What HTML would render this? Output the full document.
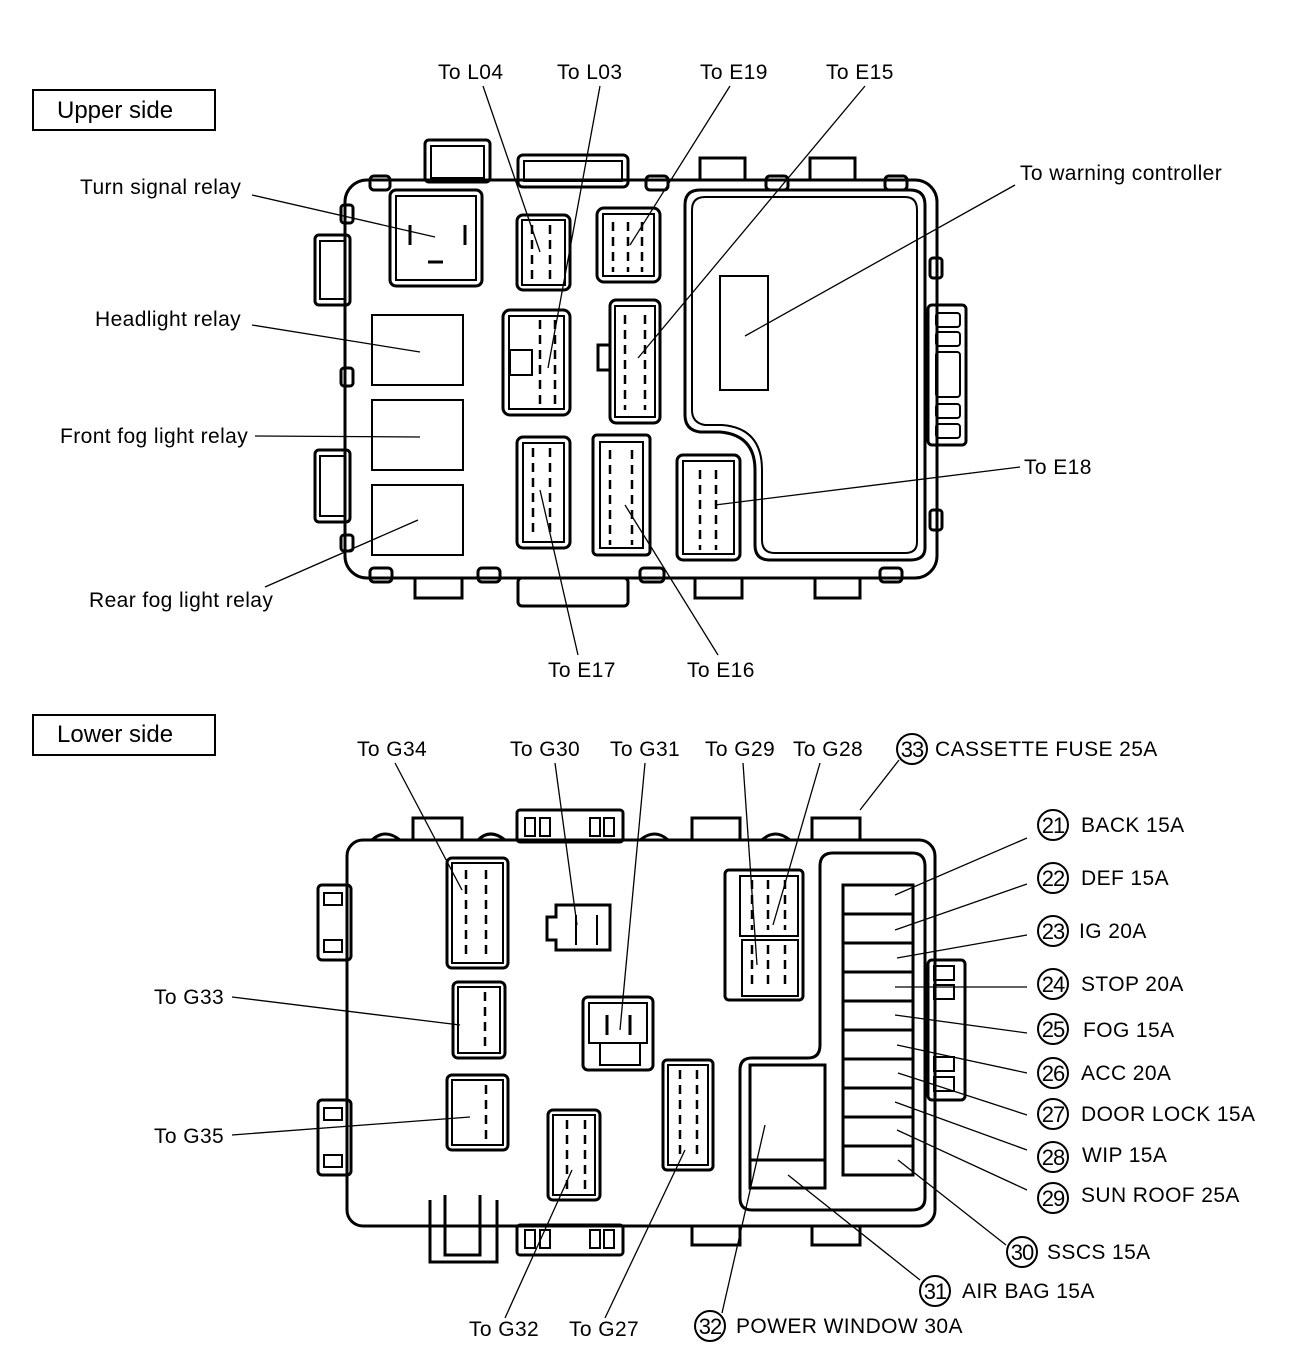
<!DOCTYPE html>
<html><head><meta charset="utf-8"><style>
html,body{margin:0;padding:0;background:#fff}
svg{display:block}
text{font-family:"Liberation Sans",Arial,sans-serif;font-size:21px;letter-spacing:0.4px;fill:#000}
.b{fill:none;stroke:#000;stroke-width:3}
.t{fill:none;stroke:#000;stroke-width:2}
.l{stroke:#000;stroke-width:1.3;fill:none}
.d{stroke:#000;stroke-width:2.5;stroke-dasharray:9 6;fill:none}
</style></head><body>
<svg width="1312" height="1358" viewBox="0 0 1312 1358" xmlns="http://www.w3.org/2000/svg">
<!-- UPPER -->
<rect x="33" y="90" width="182" height="40" class="t"/>
<text x="57" y="118" style="font-size:24px;letter-spacing:0">Upper side</text>

<rect x="345" y="180" width="592" height="398" rx="22" class="b"/>
<rect x="425" y="140" width="65" height="42" rx="4" class="b"/><rect x="431" y="146" width="53" height="32" class="t"/>
<rect x="518" y="155" width="110" height="32" rx="5" class="b"/><rect x="524" y="161" width="98" height="20" class="t"/>
<rect x="370" y="176" width="20" height="14" rx="4" class="b"/>
<rect x="646" y="176" width="22" height="14" rx="4" class="b"/>
<rect x="766" y="176" width="22" height="14" rx="4" class="b"/>
<rect x="885" y="176" width="22" height="14" rx="4" class="b"/>
<path d="M700 180 V158 H745 V180 M810 180 V158 H855 V180" class="b"/>
<rect x="315" y="235" width="35" height="70" rx="4" class="b"/><rect x="320" y="241" width="25" height="58" class="t"/>
<rect x="315" y="450" width="35" height="72" rx="4" class="b"/><rect x="320" y="456" width="25" height="60" class="t"/>
<rect x="341" y="205" width="12" height="18" rx="3" class="b"/>
<rect x="341" y="368" width="12" height="18" rx="3" class="b"/>
<rect x="341" y="535" width="12" height="16" rx="3" class="b"/>
<rect x="928" y="305" width="38" height="140" rx="4" class="b"/>
<rect x="936" y="313" width="24" height="14" rx="3" class="t"/><rect x="936" y="332" width="24" height="14" rx="3" class="t"/>
<rect x="936" y="352" width="24" height="45" rx="3" class="t"/><rect x="936" y="404" width="24" height="14" rx="3" class="t"/><rect x="936" y="424" width="24" height="14" rx="3" class="t"/>
<rect x="930" y="258" width="12" height="20" rx="3" class="b"/>
<rect x="930" y="510" width="12" height="20" rx="3" class="b"/>
<rect x="370" y="568" width="22" height="14" rx="4" class="b"/>
<rect x="478" y="568" width="22" height="14" rx="4" class="b"/>
<rect x="640" y="568" width="24" height="14" rx="4" class="b"/>
<rect x="880" y="568" width="22" height="14" rx="4" class="b"/>
<rect x="518" y="578" width="110" height="28" rx="4" class="b"/>
<path d="M415 578 V598 H462 V578 M695 578 V598 H742 V578 M815 578 V598 H860 V578" class="b"/>
<rect x="390" y="190" width="92" height="96" rx="6" class="b"/><rect x="396" y="196" width="80" height="84" class="t"/>
<path d="M410 225 V245 M465 225 V245 M428 262 H443" class="b"/>
<rect x="372" y="315" width="91" height="70" class="t"/>
<rect x="372" y="400" width="91" height="70" class="t"/>
<rect x="372" y="485" width="91" height="70" class="t"/>
<rect x="517" y="215" width="53" height="75" rx="6" class="b"/><rect x="522" y="220" width="43" height="65" class="t"/>
<path d="M532 225 V285 M550 225 V285" class="d"/>
<rect x="503" y="310" width="67" height="105" rx="7" class="b"/><rect x="509" y="316" width="55" height="93" class="t"/><rect x="510" y="350" width="22" height="25" class="t"/>
<path d="M540 320 V405 M555 320 V405" class="d"/>
<rect x="597" y="208" width="63" height="74" rx="7" class="b"/><rect x="603" y="214" width="51" height="62" class="t"/>
<path d="M613 222 V272 M628 222 V272 M642 222 V272" class="d"/>
<rect x="610" y="300" width="50" height="123" rx="6" class="b"/><rect x="615" y="306" width="40" height="111" class="t"/><path d="M610 345 H598 V370 H610" class="b"/>
<path d="M625 315 V410 M645 315 V410" class="d"/>
<rect x="517" y="437" width="53" height="111" rx="6" class="b"/><rect x="523" y="443" width="41" height="99" class="t"/>
<path d="M533 448 V538 M550 448 V538" class="d"/>
<rect x="593" y="435" width="57" height="120" rx="4" class="b"/><rect x="600" y="442" width="43" height="106" class="t"/>
<path d="M610 450 V545 M632 450 V545" class="d"/>
<rect x="677" y="455" width="63" height="105" rx="6" class="b"/><rect x="683" y="461" width="51" height="93" class="t"/>
<path d="M700 470 V550 M716 470 V550" class="d"/>
<path d="M700 190 H910 Q925 190 925 205 V548 Q925 560 910 560 H770 Q755 560 755 545 V470 Q755 435 720 432 H700 Q685 430 685 415 V205 Q685 190 700 190 Z" class="b"/>
<path d="M705 197 H905 Q917 197 917 210 V542 Q917 553 905 553 H775 Q762 553 762 540 V470 Q762 428 722 425 H705 Q692 423 692 410 V210 Q692 197 705 197 Z" class="t"/>
<rect x="720" y="276" width="48" height="114" class="t"/>
<text x="80" y="194">Turn signal relay</text><line x1="252" y1="195" x2="435" y2="237" class="l"/>
<text x="95" y="326">Headlight relay</text><line x1="252" y1="325" x2="420" y2="352" class="l"/>
<text x="60" y="443">Front fog light relay</text><line x1="255" y1="436" x2="420" y2="437" class="l"/>
<text x="89" y="607">Rear fog light relay</text><line x1="265" y1="587" x2="418" y2="520" class="l"/>
<text x="438" y="79">To L04</text><line x1="483" y1="86" x2="540" y2="252" class="l"/>
<text x="557" y="79">To L03</text><line x1="600" y1="86" x2="548" y2="368" class="l"/>
<text x="700" y="79">To E19</text><line x1="730" y1="86" x2="630" y2="245" class="l"/>
<text x="826" y="79">To E15</text><line x1="865" y1="86" x2="638" y2="358" class="l"/>
<text x="1020" y="180">To warning controller</text><line x1="1015" y1="185" x2="745" y2="336" class="l"/>
<text x="1024" y="474">To E18</text><line x1="1020" y1="467" x2="715" y2="505" class="l"/>
<text x="548" y="677">To E17</text><line x1="578" y1="655" x2="540" y2="490" class="l"/>
<text x="687" y="677">To E16</text><line x1="718" y1="655" x2="625" y2="505" class="l"/>

<!-- LOWER -->
<rect x="33" y="715" width="182" height="40" class="t"/>
<text x="57" y="742" style="font-size:24px;letter-spacing:0">Lower side</text>

<rect x="347" y="840" width="588" height="386" rx="16" class="b"/>
<path d="M413 840 V818 H462 V840 M692 840 V818 H740 V840 M812 840 V818 H860 V840" class="b"/>
<rect x="517" y="810" width="106" height="32" rx="3" class="b"/>
<rect x="525" y="818" width="10" height="18" class="t"/><rect x="540" y="818" width="10" height="18" class="t"/>
<rect x="590" y="818" width="10" height="18" class="t"/><rect x="604" y="818" width="10" height="18" class="t"/>
<path d="M372 840 Q385 828 400 840 M478 840 Q490 828 505 840 M640 840 Q655 828 668 840 M762 840 Q775 828 790 840" class="b"/>
<rect x="318" y="885" width="33" height="75" rx="4" class="b"/><rect x="324" y="893" width="18" height="12" class="t"/><rect x="324" y="940" width="18" height="12" class="t"/>
<rect x="318" y="1100" width="33" height="75" rx="4" class="b"/><rect x="324" y="1108" width="18" height="12" class="t"/><rect x="324" y="1155" width="18" height="12" class="t"/>
<rect x="928" y="960" width="37" height="140" rx="4" class="b"/>
<rect x="934" y="966" width="20" height="14" class="t"/><rect x="934" y="985" width="20" height="14" class="t"/>
<rect x="934" y="1057" width="20" height="14" class="t"/><rect x="934" y="1077" width="20" height="14" class="t"/>
<rect x="517" y="1225" width="106" height="30" rx="3" class="b"/>
<rect x="525" y="1230" width="10" height="18" class="t"/><rect x="540" y="1230" width="10" height="18" class="t"/>
<rect x="590" y="1230" width="10" height="18" class="t"/><rect x="604" y="1230" width="10" height="18" class="t"/>
<path d="M430 1200 V1262 H497 V1200 M445 1195 V1255 H480 V1195" class="b"/>
<path d="M692 1226 V1245 H740 V1226 M812 1226 V1245 H860 V1226" class="b"/>
<rect x="447" y="858" width="61" height="110" rx="5" class="b"/><rect x="452" y="863" width="51" height="100" class="t"/>
<path d="M466 870 V960 M486 870 V960" class="d"/>
<path d="M556 905 H610 V950 H556 V940 H547 V917 H556 Z" class="b"/><path d="M576 915 V945 M597 915 V945" class="t"/>
<rect x="453" y="982" width="52" height="76" rx="5" class="b"/><rect x="458" y="987" width="42" height="66" class="t"/>
<path d="M485 992 V1050" class="d"/>
<rect x="447" y="1075" width="61" height="75" rx="5" class="b"/><rect x="452" y="1080" width="51" height="65" class="t"/>
<path d="M486 1085 V1140" class="d"/>
<rect x="583" y="997" width="70" height="73" rx="5" class="b"/><rect x="589" y="1003" width="58" height="40" class="t"/>
<path d="M607 1015 V1035 M630 1015 V1035" class="b"/><path d="M600 1043 V1065 H640 V1043" class="t"/>
<rect x="548" y="1110" width="52" height="90" rx="5" class="b"/><rect x="553" y="1115" width="42" height="80" class="t"/>
<path d="M567 1120 V1190 M585 1120 V1190" class="d"/>
<rect x="663" y="1060" width="50" height="110" rx="4" class="b"/><rect x="668" y="1065" width="40" height="100" class="t"/>
<path d="M680 1070 V1160 M697 1070 V1160" class="d"/>
<rect x="725" y="870" width="78" height="130" rx="4" class="b"/>
<rect x="740" y="876" width="58" height="60" class="t"/><rect x="742" y="940" width="56" height="56" class="t"/>
<path d="M752 880 V930 M768 880 V930 M785 880 V930 M752 945 V990 M768 945 V990 M785 945 V990" class="d"/>
<path d="M833 853 H912 Q925 853 925 866 V1198 Q925 1210 912 1210 H752 Q740 1210 740 1198 V1070 Q740 1058 752 1058 H808 Q820 1058 820 1045 V866 Q820 853 833 853 Z" class="b"/>
<rect x="843" y="885" width="70" height="290" class="b"/>
<path d="M843 914 H913 M843 943 H913 M843 972 H913 M843 1001 H913 M843 1030 H913 M843 1059 H913 M843 1088 H913 M843 1117 H913 M843 1146 H913" class="b"/>
<rect x="750" y="1065" width="75" height="123" class="b"/><line x1="750" y1="1160" x2="825" y2="1160" class="b"/>
<text x="357" y="756">To G34</text><line x1="395" y1="763" x2="462" y2="890" class="l"/>
<text x="510" y="756">To G30</text><line x1="555" y1="763" x2="577" y2="925" class="l"/>
<text x="610" y="756">To G31</text><line x1="645" y1="763" x2="620" y2="1030" class="l"/>
<text x="705" y="756">To G29</text><line x1="743" y1="763" x2="757" y2="965" class="l"/>
<text x="793" y="756">To G28</text><line x1="820" y1="763" x2="773" y2="925" class="l"/>
<text x="154" y="1004">To G33</text><line x1="232" y1="997" x2="460" y2="1025" class="l"/>
<text x="154" y="1143">To G35</text><line x1="232" y1="1135" x2="470" y2="1117" class="l"/>
<text x="469" y="1336">To G32</text><line x1="505" y1="1318" x2="572" y2="1170" class="l"/>
<text x="569" y="1336">To G27</text><line x1="605" y1="1318" x2="685" y2="1150" class="l"/>

<g>
<circle cx="912" cy="749" r="15" class="t"/><text x="912" y="757" text-anchor="middle" style="font-size:22px;letter-spacing:-1px">33</text><text x="935" y="756">CASSETTE FUSE 25A</text><line x1="899" y1="760" x2="860" y2="810" class="l"/>
<circle cx="1053" cy="825" r="15" class="t"/><text x="1053" y="833" text-anchor="middle" style="font-size:22px;letter-spacing:-1px">21</text><text x="1081" y="832">BACK 15A</text><line x1="1027" y1="838" x2="895" y2="895" class="l"/>
<circle cx="1053" cy="878" r="15" class="t"/><text x="1053" y="886" text-anchor="middle" style="font-size:22px;letter-spacing:-1px">22</text><text x="1081" y="885">DEF 15A</text><line x1="1027" y1="884" x2="895" y2="930" class="l"/>
<circle cx="1053" cy="931" r="15" class="t"/><text x="1053" y="939" text-anchor="middle" style="font-size:22px;letter-spacing:-1px">23</text><text x="1079" y="938">IG 20A</text><line x1="1027" y1="935" x2="897" y2="958" class="l"/>
<circle cx="1053" cy="984" r="15" class="t"/><text x="1053" y="992" text-anchor="middle" style="font-size:22px;letter-spacing:-1px">24</text><text x="1081" y="991">STOP 20A</text><line x1="1027" y1="987" x2="895" y2="987" class="l"/>
<circle cx="1053" cy="1029" r="15" class="t"/><text x="1053" y="1037" text-anchor="middle" style="font-size:22px;letter-spacing:-1px">25</text><text x="1083" y="1037">FOG 15A</text><line x1="1027" y1="1033" x2="895" y2="1015" class="l"/>
<circle cx="1053" cy="1073" r="15" class="t"/><text x="1053" y="1081" text-anchor="middle" style="font-size:22px;letter-spacing:-1px">26</text><text x="1081" y="1080">ACC 20A</text><line x1="1027" y1="1073" x2="897" y2="1045" class="l"/>
<circle cx="1053" cy="1114" r="15" class="t"/><text x="1053" y="1122" text-anchor="middle" style="font-size:22px;letter-spacing:-1px">27</text><text x="1081" y="1121">DOOR LOCK 15A</text><line x1="1027" y1="1115" x2="898" y2="1073" class="l"/>
<circle cx="1053" cy="1157" r="15" class="t"/><text x="1053" y="1165" text-anchor="middle" style="font-size:22px;letter-spacing:-1px">28</text><text x="1082" y="1162">WIP 15A</text><line x1="1027" y1="1150" x2="895" y2="1102" class="l"/>
<circle cx="1053" cy="1198" r="15" class="t"/><text x="1053" y="1206" text-anchor="middle" style="font-size:22px;letter-spacing:-1px">29</text><text x="1081" y="1202">SUN ROOF 25A</text><line x1="1027" y1="1190" x2="897" y2="1130" class="l"/>
<circle cx="1022" cy="1252" r="15" class="t"/><text x="1022" y="1260" text-anchor="middle" style="font-size:22px;letter-spacing:-1px">30</text><text x="1047" y="1259">SSCS 15A</text><line x1="1006" y1="1245" x2="898" y2="1160" class="l"/>
<circle cx="935" cy="1291" r="15" class="t"/><text x="935" y="1299" text-anchor="middle" style="font-size:22px;letter-spacing:-1px">31</text><text x="962" y="1298">AIR BAG 15A</text><line x1="920" y1="1280" x2="788" y2="1175" class="l"/>
<circle cx="710" cy="1326" r="15" class="t"/><text x="710" y="1334" text-anchor="middle" style="font-size:22px;letter-spacing:-1px">32</text><text x="736" y="1333">POWER WINDOW 30A</text><line x1="722" y1="1313" x2="765" y2="1125" class="l"/>
</g>
</svg>
</body></html>
